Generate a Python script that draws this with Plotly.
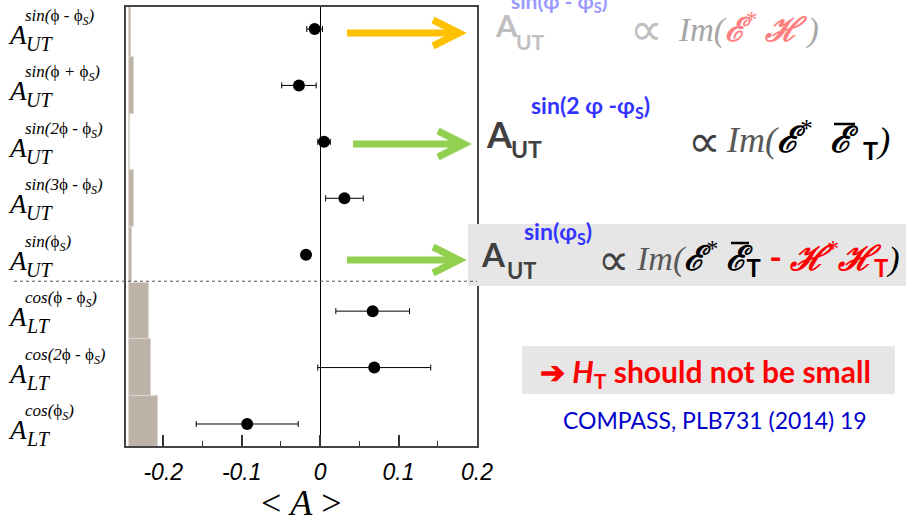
import plotly.graph_objects as go

# ---- figure geometry (pixels) ----
W, H = 906, 516
ML, MR, MT, MB = 126, 429, 7, 70
PW, PH = W - ML - MR, H - MT - MB


def px(x):
    """pixel column -> paper x"""
    return (x - ML) / PW


def py(y):
    """pixel row (from top) -> paper y"""
    return (H - MB - y) / PH


# ---- data ----
row_pos = [0, 1, 2, 3, 4, 5, 6, 7]
harmonics = [
    "<i>sin(</i>ϕ<i> - </i>ϕ<i><sub>S</sub>)</i>",
    "<i>sin(</i>ϕ<i> + </i>ϕ<i><sub>S</sub>)</i>",
    "<i>sin(2</i>ϕ<i> - </i>ϕ<i><sub>S</sub>)</i>",
    "<i>sin(3</i>ϕ<i> - </i>ϕ<i><sub>S</sub>)</i>",
    "<i>sin(</i>ϕ<i><sub>S</sub>)</i>",
    "<i>cos(</i>ϕ<i> - </i>ϕ<i><sub>S</sub>)</i>",
    "<i>cos(2</i>ϕ<i> - </i>ϕ<i><sub>S</sub>)</i>",
    "<i>cos(</i>ϕ<i><sub>S</sub>)</i>",
]
asym_type = ["UT", "UT", "UT", "UT", "UT", "LT", "LT", "LT"]
mean_A = [-0.007, -0.027, 0.005, 0.031, -0.018, 0.067, 0.069, -0.093]
stat_err = [0.010, 0.022, 0.008, 0.024, 0.005, 0.047, 0.072, 0.065]
sys_err = [0.003, 0.007, 0.0022, 0.0072, 0.0038, 0.0255, 0.029, 0.038]
sys_base = -0.2442
tick_vals = [-0.2, -0.1, 0, 0.1, 0.2]
tick_text = ["-0.2", "-0.1", "0", "0.1", "0.2"]
x_title = "&lt; <i>A</i> &gt;"

SERIF = "Liberation Serif"
SANS = "Lato"

fig = go.Figure()

# systematic uncertainty bands along the left edge
fig.add_trace(go.Bar(
    y=row_pos, x=sys_err, base=sys_base, orientation="h", width=1,
    marker=dict(color="#bdb3a9", line=dict(color="#ddd6cf", width=1)),
    hoverinfo="skip", showlegend=False,
))

# measured asymmetries with statistical errors
fig.add_trace(go.Scatter(
    x=mean_A, y=row_pos, mode="markers",
    marker=dict(color="black", size=12),
    error_x=dict(type="data", array=stat_err, color="black", thickness=1, width=3),
    showlegend=False,
))

ann = []

# row labels  A_{UT/LT}^{harmonic}
for i, (h, t) in enumerate(zip(harmonics, asym_type)):
    ann.append(dict(text="<i>A</i>", x=px(6), y=i, xref="paper", yref="y",
                    xanchor="left", yanchor="middle", yshift=-6, showarrow=False,
                    font=dict(family=SERIF, size=27, color="black")))
    ann.append(dict(text=f"<i>{t}</i>", x=px(24), y=i, xref="paper", yref="y",
                    xanchor="left", yanchor="middle", yshift=-15, showarrow=False,
                    font=dict(family=SERIF, size=20, color="black")))
    ann.append(dict(text=h, x=px(23), y=i, xref="paper", yref="y",
                    xanchor="left", yanchor="middle", yshift=12, showarrow=False,
                    font=dict(family=SERIF, size=17, color="black")))


def note(text, x, y, size, color, family=SANS, xanchor="left"):
    ann.append(dict(text=text, x=px(x), y=py(y), xref="paper", yref="paper",
                    xanchor=xanchor, yanchor="middle", showarrow=False,
                    font=dict(family=family, size=size, color=color)))


def span(text, color, family=None, bold=False, italic=False):
    style = f"color:{color}"
    if family:
        style += f";font-family:{family}"
    s = f'<span style="{style}">{text}</span>'
    if bold:
        s = f"<b>{s}</b>"
    if italic:
        s = f"<i>{s}</i>"
    return s


E, HH = "<b>ℰ</b>", "<b>ℋ</b>"
PROP = "∝"

# x-axis title, placed by hand under the tick labels
note(x_title, 301, 503, 36, "black", family=SERIF, xanchor="center")

# line 1 (faded)
note("<b>A</b>", 493, 25, 31, "#BFBFBF")
note("<b>UT</b>", 514, 41, 21, "#BFBFBF")
note("<b>sin(φ - φ<sub>S</sub>)</b>", 509, 2, 21, "#9999FF")
note(PROP, 628, 29, 46, "#BFBFBF", family="DejaVu Sans")
note(span("Im(", "#A6A6A6", italic=True)
     + span(f"{E}<sup>*</sup> {HH}", "#FF8080", italic=True)
     + span(" )", "#A6A6A6", italic=True), 676, 28, 33, "#A6A6A6", family=SERIF)

# line 2
note("<b>A</b>", 484, 134, 36, "#404040")
note("<b>UT</b>", 509, 149, 23, "#404040")
note("<b>sin(2 φ -φ<sub>S</sub>)</b>", 529, 106, 23, "#3333FF")
note(PROP, 686, 141, 46, "#404040", family="DejaVu Sans")
note(span("Im(", "#595959", italic=True)
     + span(f"{E}<sup>*</sup>  {E}", "black", italic=True)
     + span("<b><sub>  T</sub></b>", "black", family=SANS)
     + span(")", "black", italic=True), 724, 140, 36, "black", family=SERIF)

# line 3 (on grey band)
note("<b>sin(φ<sub>S</sub>)</b>", 522, 232, 23, "#3333FF")
note("<b>A</b>", 479, 254, 33, "#404040")
note("<b>UT</b>", 505, 270, 22, "#404040")
note(PROP, 596, 259, 44, "#404040", family="DejaVu Sans")
note(span("Im(", "#595959", italic=True)
     + span(f"{E}<sup>*</sup> {E}", "black", italic=True)
     + span("<b><sub>T</sub></b>", "black", family=SANS)
     + span(" - ", "#FF0000", family=SANS, bold=True)
     + span(f"{HH}<sup>*</sup>{HH}", "#FF0000", italic=True)
     + span("<b><sub>T</sub></b>", "#FF0000", family=SANS)
     + span(")", "black", italic=True), 634, 258, 34, "black", family=SERIF)

# conclusion and reference
note("<b>➔ <i>H</i><sub>T</sub> should not be small</b>", 705, 373, 30, "#FF0000", xanchor="center")
note("COMPASS, PLB731 (2014) 19", 715, 420, 23, "#0000CC", xanchor="center")

shapes = [
    # grey backgrounds behind text
    dict(type="rect", xref="paper", yref="paper", x0=px(468), x1=px(906), y0=py(286), y1=py(224),
         fillcolor="#E6E6E6", line=dict(width=0), layer="above"),
    dict(type="rect", xref="paper", yref="paper", x0=px(522), x1=px(895), y0=py(394), y1=py(346),
         fillcolor="#E6E6E6", line=dict(width=0), layer="below"),
    # separator between UT and LT asymmetries
    dict(type="line", xref="paper", yref="y", x0=px(14), x1=1, y0=4.47, y1=4.47,
         line=dict(color="#555555", width=1, dash="dot"), layer="above"),
]


def overbar(x0, x1, y):
    shapes.append(dict(type="line", xref="paper", yref="paper", x0=px(x0), x1=px(x1),
                       y0=py(y), y1=py(y), line=dict(color="black", width=2.5), layer="above"))


def arrow(y, x0, x1, color):
    shapes.append(dict(type="line", xref="paper", yref="paper", x0=px(x0), x1=px(x1 - 4),
                       y0=py(y), y1=py(y), line=dict(color=color, width=7), layer="above"))
    pts = [(x1 - 26, y - 13), (x1, y), (x1 - 26, y + 13)]
    path = "M " + " L ".join(f"{px(a):.5f},{py(b):.5f}" for a, b in pts)
    shapes.append(dict(type="path", xref="paper", yref="paper", path=path,
                       line=dict(color=color, width=7), layer="above"))


arrow(33, 347, 459, "#FFC000")
arrow(144, 353, 464, "#92D050")
arrow(260, 347, 459, "#92D050")
overbar(834, 855, 124)
overbar(731, 749, 243)

axis_line = dict(showline=True, mirror=True, linecolor="#444444", linewidth=1.5, showgrid=False)

fig.update_layout(
    width=W, height=H,
    margin=dict(l=ML, r=MR, t=MT, b=MB),
    paper_bgcolor="white", plot_bgcolor="white",
    bargap=0,
    xaxis=dict(
        range=[-0.2475, 0.2], tickmode="array", tickvals=tick_vals, ticktext=tick_text,
        ticks="inside", ticklen=11, tickwidth=1.5, tickcolor="#333333",
        minor=dict(ticks="inside", ticklen=5, tickwidth=1.2, tickcolor="#333333",
                   tickmode="linear", tick0=0, dtick=0.05),
        tickfont=dict(family="Liberation Sans", size=23, color="black", style="italic"),
        ticklabelstandoff=5,
        automargin=False,
        zeroline=True, zerolinecolor="black", zerolinewidth=1,
        **axis_line,
    ),
    yaxis=dict(
        range=[7.39, -0.39], showticklabels=False, ticks="", zeroline=False,
        automargin=False,
        **axis_line,
    ),
    annotations=ann,
    shapes=shapes,
)

fig.write_html("out.html")
